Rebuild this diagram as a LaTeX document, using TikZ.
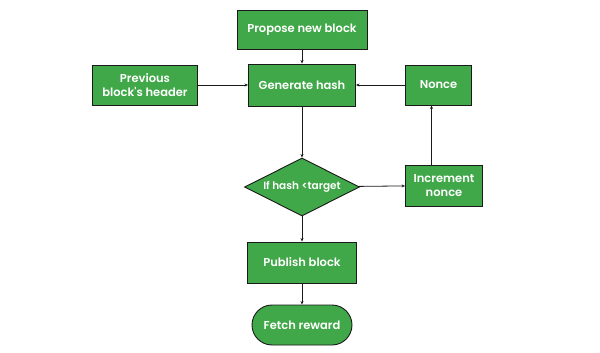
\documentclass[tikz,border=0pt]{standalone}
\usepackage{fontspec}
\setmainfont{Poppins}[BoldFont={Poppins SemiBold}]
\usetikzlibrary{positioning,shapes.geometric,arrows.meta}
\definecolor{boxgreen}{RGB}{64,168,72}
\definecolor{edgeblack}{RGB}{26,26,26}
\begin{document}
\begin{tikzpicture}[
        node distance=56pt,
        step box/.style={rectangle, minimum height=40pt, text centered, draw=edgeblack, line width=0.9pt, fill=boxgreen, text=white, font=\bfseries\fontsize{11.5}{14}\selectfont, align=center, inner sep=2pt},
        decision/.style={diamond, aspect=2, minimum width=115pt, minimum height=58pt, inner sep=0pt, text centered, draw=edgeblack, line width=0.9pt, fill=boxgreen, text=white, font=\bfseries\fontsize{10.5}{12}\selectfont},
        terminal/.style={rectangle, rounded corners=20pt, minimum width=100pt, minimum height=40pt, text centered, draw=edgeblack, line width=0.9pt, fill=boxgreen, text=white, font=\bfseries\fontsize{11.5}{14}\selectfont},
        arrow/.style={line width=0.8pt, draw=edgeblack, -{Stealth[length=3.5pt, width=3pt]}}
    ]
        \useasboundingbox (0,0) rectangle (600pt,-353pt);
        \node (propose) [step box, minimum width=130pt, minimum height=39pt] at (302pt,-29.5pt) {Propose new block};
        \node (gen) [step box, minimum width=107pt, minimum height=42pt, below of=propose, yshift=0.5pt] {Generate hash};
        \node (prev) [step box, minimum width=105pt, left of=gen, xshift=-101pt] {Previous\\block\textquotesingle s header};
        \node (nonce) [step box, minimum width=66pt, right of=gen, xshift=80.5pt] {Nonce};
        \node (check) [decision, below of=gen, yshift=-46pt] {If hash <target};
        \node (inc) [step box, minimum width=77pt, minimum height=41pt, below of=nonce, yshift=-44.5pt, xshift=5.5pt] {Increment\\nonce};
        \node (publish) [step box, minimum width=109pt, minimum height=41pt, below of=check, yshift=-19.5pt] {Publish block};
        \node (fetch) [terminal, below of=publish, yshift=-6.5pt] {Fetch reward};

        \draw [arrow] (propose) -- (gen);
        \draw [arrow] (prev) -- (gen);
        \draw [arrow] (nonce) -- (gen);
        \draw [arrow] (gen) -- (check);
        \draw [arrow] (check) -- (inc);
        \draw [arrow] ([xshift=-12.5pt]inc.north) -- ([xshift=-12.5pt]inc.north |- nonce.south);
        \draw [arrow] (check) -- (publish);
        \draw [arrow] (publish) -- (fetch);
    \end{tikzpicture}
\end{document}
